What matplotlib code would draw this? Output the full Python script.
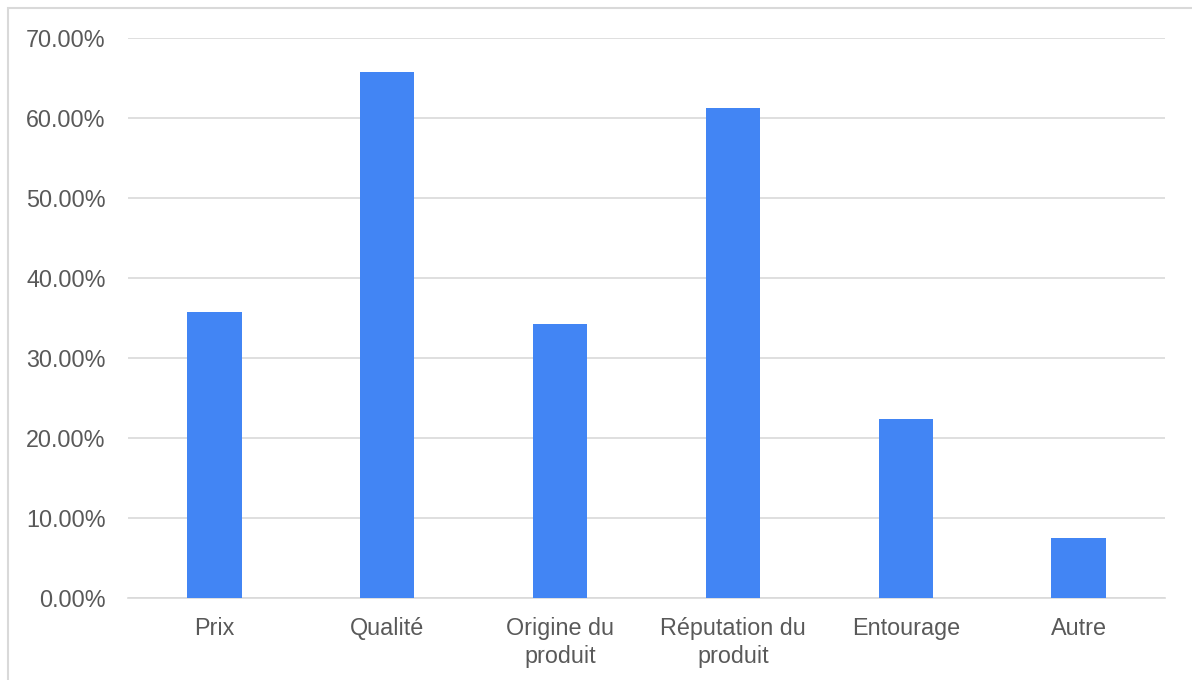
import matplotlib
matplotlib.use("Agg")
import matplotlib.pyplot as plt
from matplotlib.ticker import FuncFormatter, MultipleLocator
from matplotlib.patches import Rectangle

categories = ["Prix", "Qualité", "Origine du\nproduit", "Réputation du\nproduit", "Entourage", "Autre"]
values = [35.8, 65.7, 34.3, 61.2, 22.4, 7.5]
y_ticks_max = 70

plt.rcParams['font.family'] = ['Liberation Sans', 'DejaVu Sans']

fig = plt.figure(figsize=(11.92, 6.8), dpi=100)
ax = fig.add_axes([128 / 1192, 82 / 680, (1165 - 128) / 1192, (598 - 38) / 680])

x = list(range(len(categories)))
ax.bar(x, values, width=0.315, color="#4285F4", zorder=3)

ax.set_xlim(-0.5, len(categories) - 0.5)
ax.set_ylim(0, y_ticks_max)
ax.yaxis.set_major_locator(MultipleLocator(10))
ax.yaxis.set_major_formatter(FuncFormatter(lambda v, _: f"{v:.2f}%"))
ax.set_xticks(x)
ax.set_xticklabels(categories, linespacing=1.25)

ax.grid(axis="y", color="#D9D9D9", linewidth=1.2, zorder=0)
for side in ("left", "right", "top"):
    ax.spines[side].set_visible(False)
ax.spines["bottom"].set_color("#D9D9D9")
ax.spines["bottom"].set_linewidth(1.2)

ax.tick_params(axis="both", length=0, labelsize=16.8, labelcolor="#595959")
ax.tick_params(axis="y", pad=16)
ax.tick_params(axis="x", pad=14)

# light frame around the chart area
fig.patches.append(Rectangle((8 / 1192, -0.1), 1.2, (680 - 8) / 680 + 0.1,
                             transform=fig.transFigure, fill=False,
                             edgecolor="#D9D9D9", linewidth=1.5))

fig.savefig("out.png", dpi=100)
